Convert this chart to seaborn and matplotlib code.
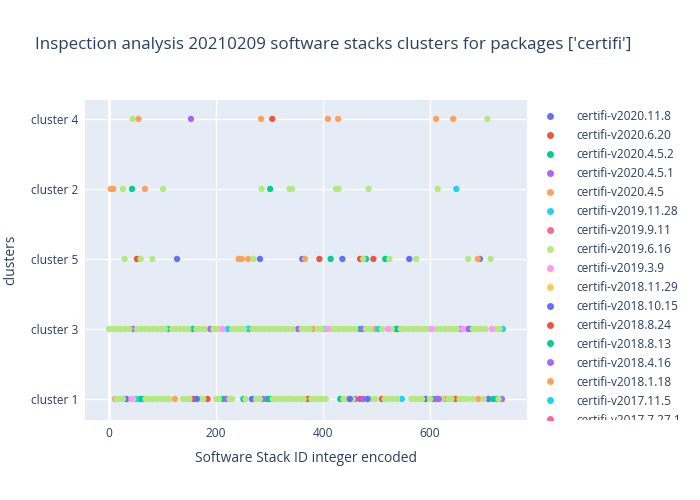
import pandas as pd
import matplotlib.pyplot as plt
import seaborn as sns

# package versions shown in the legend (plotly order)
versions = ['certifi-v2020.11.8', 'certifi-v2020.6.20', 'certifi-v2020.4.5.2',
            'certifi-v2020.4.5.1', 'certifi-v2020.4.5', 'certifi-v2019.11.28',
            'certifi-v2019.9.11', 'certifi-v2019.6.16', 'certifi-v2019.3.9',
            'certifi-v2018.11.29', 'certifi-v2018.10.15', 'certifi-v2018.8.24',
            'certifi-v2018.8.13', 'certifi-v2018.4.16', 'certifi-v2018.1.18',
            'certifi-v2017.11.5', 'certifi-v2017.7.27.1']
plotly_colors = ['#636EFA', '#EF553B', '#00CC96', '#AB63FA', '#FFA15A',
                 '#19D3F3', '#FF6692', '#B6E880', '#FF97FF', '#FECB52']
cluster_order = ['cluster 1', 'cluster 3', 'cluster 5', 'cluster 2', 'cluster 4']

# software stack ids per cluster, keyed by version index
cluster1 = {
    0: [32, 267, 591, 709],
    1: [158, 184, 371, 469, 510, 647],
    2: [58, 63, 213, 251, 295, 301, 432, 606, 718, 725],
    3: [219, 288, 460, 475, 612, 734],
    4: [11, 123, 628, 690],
    5: [50, 547],
    7: [14, 20, 26, 45, 68, 75, 82, 90, 98, 105, 112, 138, 145, 150, 170, 176,
        200, 205, 225, 230, 255, 275, 282, 306, 312, 320, 328, 335, 342, 350,
        358, 364, 378, 385, 392, 398, 405, 438, 445, 455, 490, 498, 515, 522,
        530, 538, 565, 572, 580, 585, 600, 622, 635, 640, 655, 662, 670, 680,
        700, 728],
    8: [42],
    10: [164, 450, 483],
    13: [616],
}
cluster3 = {
    0: [540, 658],
    2: [110, 157, 262, 469, 536, 675],
    3: [45, 189, 353, 474, 671],
    4: [381, 497],
    5: [222, 259, 401, 503, 736],
    7: [0, 8, 15, 22, 30, 38, 52, 60, 68, 75, 83, 90, 98, 105, 118, 125, 133,
        140, 148, 163, 170, 178, 195, 200, 205, 230, 238, 245, 252, 268, 275,
        283, 290, 298, 305, 312, 320, 328, 335, 343, 360, 368, 375, 390, 398,
        416, 423, 430, 438, 445, 452, 460, 480, 488, 510, 528, 545, 552, 560,
        568, 575, 582, 590, 597, 612, 620, 628, 635, 642, 650, 680, 688, 695,
        703, 722, 730],
    8: [212, 409, 521, 603, 661, 715],
}
cluster5 = {
    0: [127, 282, 361, 436, 561, 693],
    1: [52, 393, 469, 494],
    2: [414, 480, 516],
    4: [242, 248, 260, 366, 689],
    7: [29, 59, 81, 270, 475, 524, 574, 671, 713],
}
cluster2 = {
    2: [43, 301],
    4: [3, 8, 67],
    5: [649],
    7: [26, 101, 285, 337, 342, 424, 429, 485, 614],
}
cluster4 = {
    1: [305],
    3: [153],
    4: [55, 284, 409, 428, 611, 643],
    7: [44, 707],
}

rows = []
for name, groups in [('cluster 1', cluster1), ('cluster 3', cluster3),
                     ('cluster 5', cluster5), ('cluster 2', cluster2),
                     ('cluster 4', cluster4)]:
    for v, ids in groups.items():
        for i in ids:
            rows.append((i, name, v))
df = pd.DataFrame(rows, columns=['stack_id', 'cluster', 'v'])
# plotly draws traces in legend order, later ones on top
df = df.sort_values('v', kind='stable')
df['version'] = [versions[v] for v in df['v']]
df['cluster'] = pd.Categorical(df['cluster'], categories=cluster_order)

palette = {v: plotly_colors[i % 10] for i, v in enumerate(versions)}
text_col = '#2a3f5f'

sns.set_style('white')
plt.rcParams['font.family'] = ['Open Sans', 'DejaVu Sans']

fig = plt.figure(figsize=(7, 5), dpi=100)
ax = fig.add_axes([85 / 700, 80 / 500, 442 / 700, 320 / 500])
ax.set_facecolor('#E5ECF6')

sns.scatterplot(data=df, x='stack_id', y='cluster', hue='version',
                hue_order=versions, palette=palette, s=21, linewidth=0,
                ax=ax, legend=False, zorder=3)

ax.set_xlim(-45, 781)
ax.set_ylim(-0.3, 4.27)
ax.set_xticks([0, 200, 400, 600])
ax.grid(True, color='white', linewidth=1, zorder=0)
ax.axvline(0, color='white', linewidth=2, zorder=1)
ax.set_axisbelow(True)
for s in ax.spines.values():
    s.set_visible(False)
ax.tick_params(length=0, labelsize=8.6, labelcolor=text_col, pad=5)
ax.set_xlabel('Software Stack ID integer encoded', fontsize=10, color=text_col, labelpad=8)
ax.set_ylabel('clusters', fontsize=10, color=text_col, labelpad=9)

fig.text(35 / 700, 1 - 45 / 500,
         "Inspection analysis 20210209 software stacks clusters for packages ['certifi']",
         fontsize=12.2, color=text_col, va='center', ha='left')

handles = [plt.Line2D([], [], marker='o', linestyle='', markersize=5,
                      markerfacecolor=palette[v], markeredgewidth=0)
           for v in versions]
leg = fig.legend(handles, versions, loc='upper left',
                 bbox_to_anchor=(543 / 700, 1 - 110 / 500), frameon=False,
                 fontsize=8.6, labelspacing=0.5, handletextpad=1.6,
                 handlelength=1.2, borderaxespad=0, borderpad=0)
for t in leg.get_texts():
    t.set_color(text_col)
clip = plt.Rectangle((0, 80 / 500), 1, 320 / 500, transform=fig.transFigure,
                     visible=False)
fig.add_artist(clip)
for a in leg.findobj():
    if a is not leg:
        a.set_clip_path(clip)

fig.savefig('out.png', dpi=100)
